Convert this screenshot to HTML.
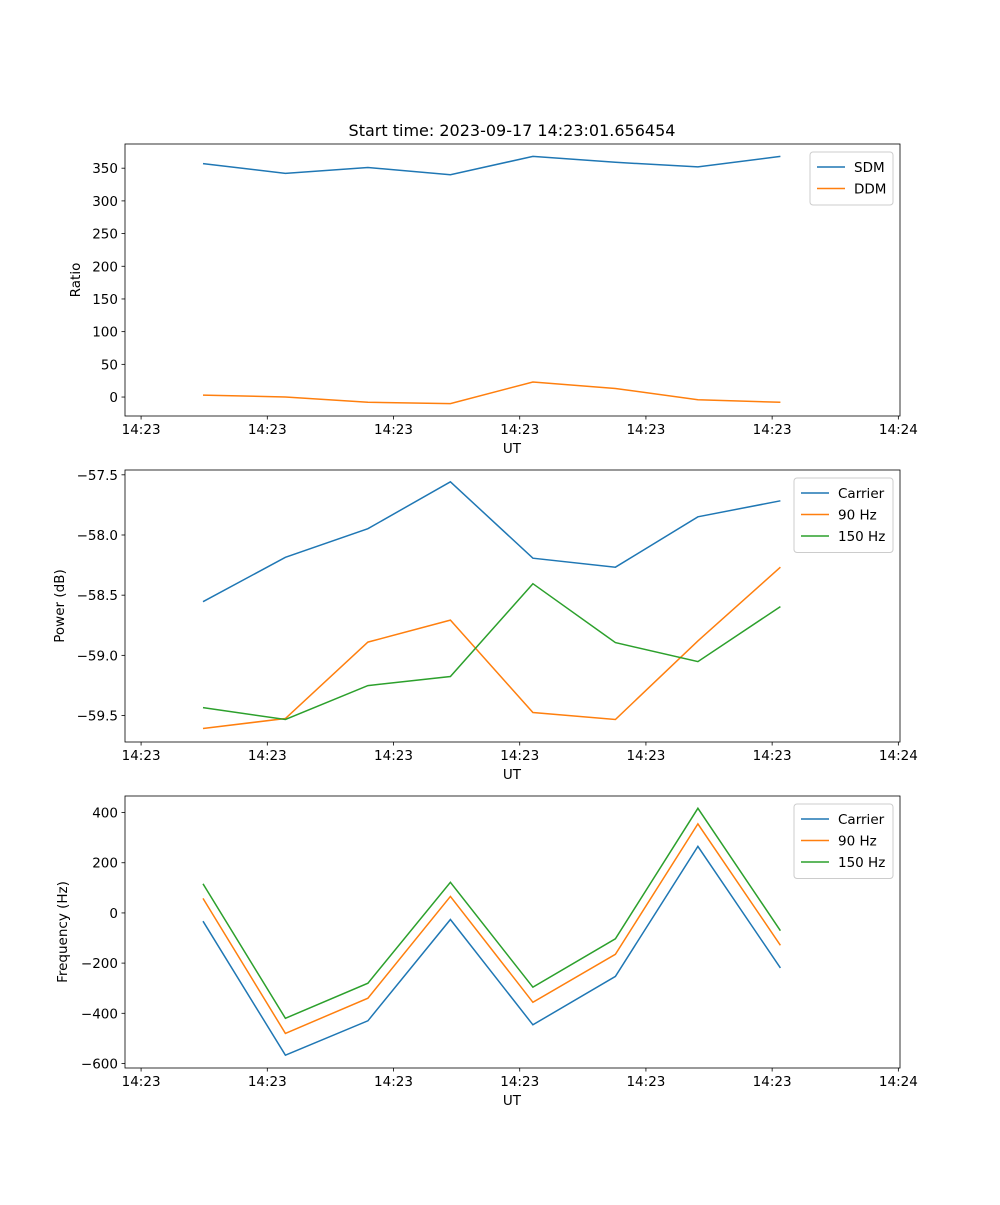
<!DOCTYPE html>
<html><head><meta charset="utf-8"><style>
body{margin:0;background:#fff;}
svg text{font-family:"DejaVu Sans","Liberation Sans",sans-serif;fill:#000;}
</style></head><body>
<svg id="fig" width="1000" height="1200" xmlns="http://www.w3.org/2000/svg">
<rect width="1000" height="1200" fill="#fff"/>
<text x="512" y="136" font-size="16" text-anchor="middle">Start time: 2023-09-17 14:23:01.656454</text>
</svg>
<script>
const xIdx=[0,1,2,3,4,5,6,7];
const xTickVals=[-0.75,0.78,2.31,3.84,5.37,6.9,8.43];
const xTickLabels=["14:23","14:23","14:23","14:23","14:23","14:23","14:24"];
const sdm=[357,342,351,340,368,359,352,368];
const ddm=[3,0,-8,-10,23,13,-4,-8];
const pCarrier=[-58.554,-58.185,-57.948,-57.558,-58.193,-58.268,-57.849,-57.716];
const p90=[-59.608,-59.525,-58.89,-58.707,-59.475,-59.533,-58.88,-58.268];
const p150=[-59.434,-59.533,-59.251,-59.176,-58.405,-58.894,-59.052,-58.595];
const fCarrier=[-33,-567,-430,-26,-446,-253,265,-219];
const f90=[58,-480,-340,66,-356,-165,355,-129];
const f150=[116,-420,-280,122,-296,-103,417,-71];
const ticks1=[0,50,100,150,200,250,300,350];
const ticks2=[-59.5,-59.0,-58.5,-58.0,-57.5];
const ticks3=[-600,-400,-200,0,200,400];

const NS="http://www.w3.org/2000/svg";
const svg=document.getElementById('fig');
const C=['#1f77b4','#ff7f0e','#2ca02c'];
function mk(t,a,p){const e=document.createElementNS(NS,t);for(const k in a)e.setAttribute(k,a[k]);(p||svg).appendChild(e);return e;}
const L=125,R=900,xmin=-0.945,xmax=8.45;
const sx=v=>L+(v-xmin)/(xmax-xmin)*(R-L);
function panel(top,bot,ymin,ymax,yt,fmt,ylabel,series,names,legend,pname){
  const g=mk('g',{});
  
  
  const sy=v=>bot-(v-ymin)/(ymax-ymin)*(bot-top);
  series.forEach((s,i)=>{
    const d=s.map((v,j)=>(j?'L':'M')+sx(xIdx[j]).toFixed(1)+','+sy(v).toFixed(1)).join('');
    const p=mk('path',{d:d,fill:'none',stroke:C[i],'stroke-width':1.5},g);
    
    
  });
  const fr=mk('rect',{x:L,y:top,width:R-L,height:bot-top,fill:'none',stroke:'#000','stroke-width':0.8},g);
  
  
  xTickVals.forEach((v,i)=>{
    const x=sx(v);
    mk('line',{x1:x,x2:x,y1:bot,y2:bot+3.5,stroke:'#000','stroke-width':0.8},g);
    const t=mk('text',{x:x,y:bot+18,'font-size':13.5,'text-anchor':'middle'},g);
    t.textContent=xTickLabels[i];
    
    
  });
  yt.forEach(v=>{
    const y=sy(v);
    mk('line',{x1:L,x2:L-3.5,y1:y,y2:y,stroke:'#000','stroke-width':0.8},g);
    const t=mk('text',{x:L-7,y:y+5,'font-size':13.5,'text-anchor':'end'},g);
    t.textContent=fmt(v);
    
    
  });
  const xl=mk('text',{x:512,y:bot+37,'font-size':13.5,'text-anchor':'middle'},g);
  xl.textContent='UT';
  
  
  const cy=(top+bot)/2;
  const yl=mk('text',{x:0,y:0,'font-size':13.5,'text-anchor':'middle',transform:`translate(${legend.yx},${cy}) rotate(-90)`},g);
  yl.textContent=ylabel;
  
  
  const lg=mk('g',{},g);
  
  
  mk('rect',{x:legend.x,y:top+8,width:R-7-legend.x,height:names.length*21.5+10,rx:3,fill:'#fff',stroke:'#ccc','stroke-width':1},lg);
  names.forEach((n,i)=>{
    const y=top+8+15+i*21.5;
    mk('line',{x1:legend.x+7,x2:legend.x+35,y1:y,y2:y,stroke:C[i],'stroke-width':1.5},lg);
    const t=mk('text',{x:legend.x+44,y:y+5,'font-size':13.5},lg);
    t.textContent=n;
    
    
  });
}
const minus=s=>s.replace('-','\u2212');
panel(144,416,-29,387,ticks1,v=>minus(String(v)),'Ratio',[sdm,ddm],['SDM','DDM'],{x:810,yx:80},'ratio-panel');
panel(470,742,-59.72,-57.46,ticks2,v=>minus(v.toFixed(1)),'Power (dB)',[pCarrier,p90,p150],['Carrier','90 Hz','150 Hz'],{x:794,yx:64},'power-panel');
panel(796,1068,-618,466,ticks3,v=>minus(String(v)),'Frequency (Hz)',[fCarrier,f90,f150],['Carrier','90 Hz','150 Hz'],{x:794,yx:67},'frequency-panel');
</script>
</body></html>
